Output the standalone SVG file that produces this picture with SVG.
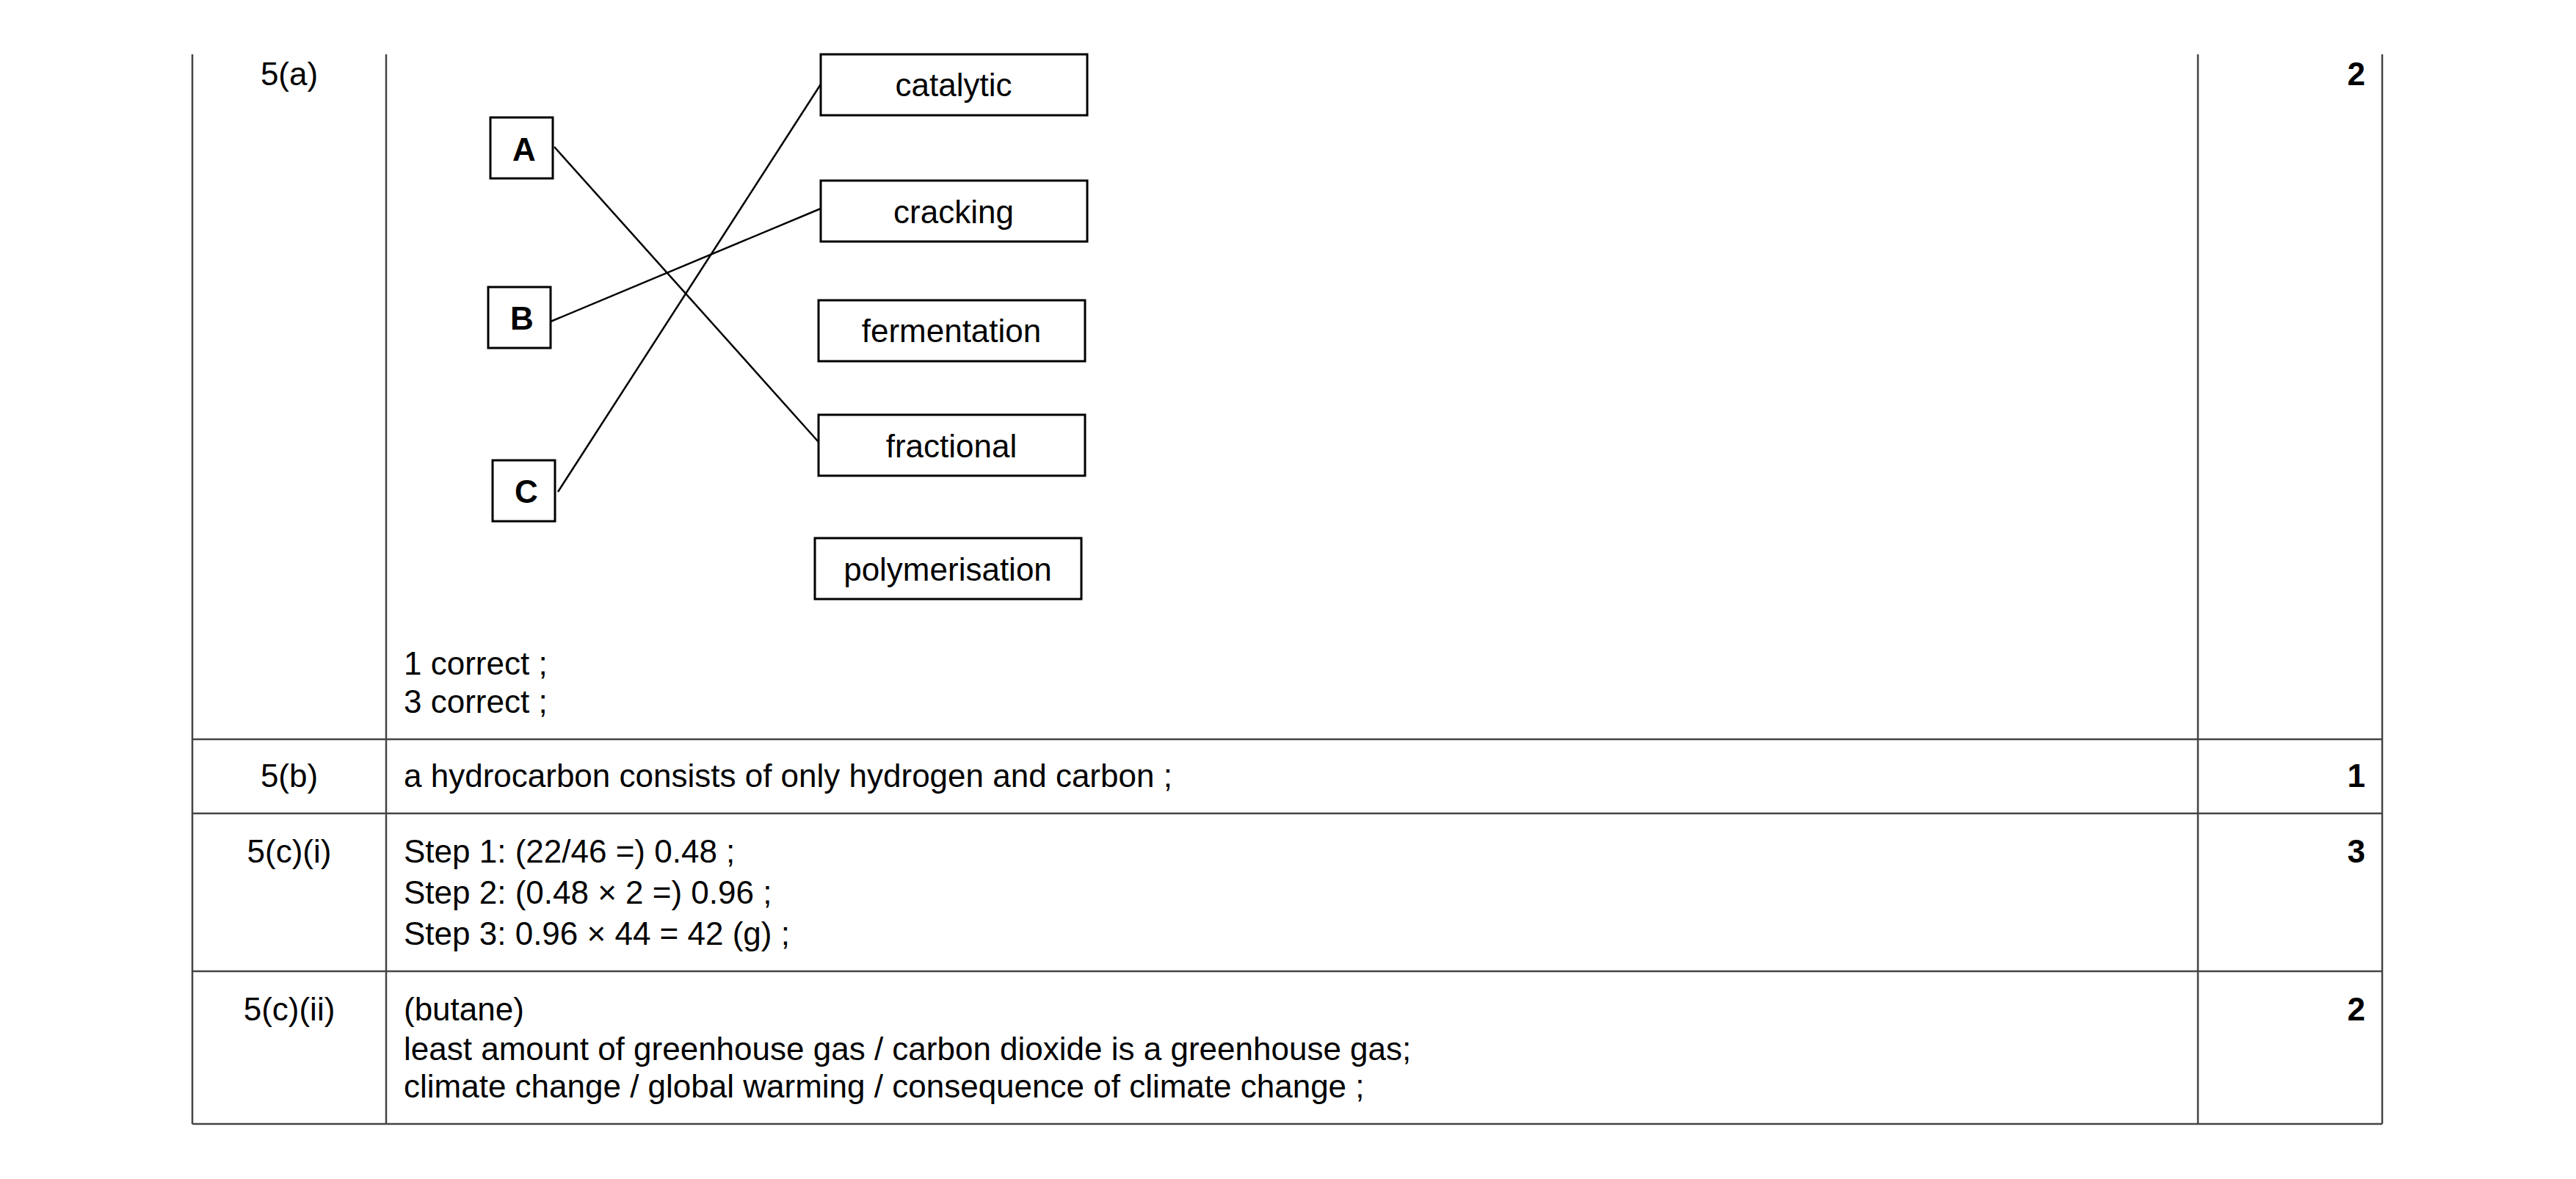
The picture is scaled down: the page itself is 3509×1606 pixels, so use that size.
<svg xmlns="http://www.w3.org/2000/svg" width="3509" height="1606" viewBox="0 0 3509 1606">
<style>
text{font-family:"Liberation Sans",Arial,sans-serif;font-size:44px;fill:#000}
.b{font-weight:bold}
.c{text-anchor:middle}
.r{text-anchor:end;font-weight:bold}
.g{stroke:#444;stroke-width:2.5;fill:none}
.bx{stroke:#000;stroke-width:3;fill:#fff}
.ln{stroke:#000;stroke-width:2.5;fill:none}
</style>
<rect width="3509" height="1606" fill="#fff"/>
<g id="table" class="g">
<line x1="262" y1="74" x2="262" y2="1531"/>
<line x1="526" y1="74" x2="526" y2="1531"/>
<line x1="2994" y1="74" x2="2994" y2="1531"/>
<line x1="3245" y1="74" x2="3245" y2="1531"/>
<line x1="262" y1="1007" x2="3245" y2="1007"/>
<line x1="262" y1="1108" x2="3245" y2="1108"/>
<line x1="262" y1="1323" x2="3245" y2="1323"/>
<line x1="262" y1="1531" x2="3245" y2="1531"/>
</g>
<g id="connectors" class="ln">
<line x1="755" y1="200" x2="1123" y2="611"/>
<line x1="750" y1="438" x2="1123" y2="282"/>
<line x1="760" y1="670" x2="1123" y2="107"/>
</g>
<g id="nodeA"><rect class="bx" x="668" y="160" width="85" height="83"/><text class="b c" x="714" y="219">A</text></g>
<g id="nodeB"><rect class="bx" x="665" y="391" width="85" height="83"/><text class="b c" x="711" y="449">B</text></g>
<g id="nodeC"><rect class="bx" x="671" y="627" width="85" height="83"/><text class="b c" x="717" y="685">C</text></g>
<g id="catalytic"><rect class="bx" x="1118" y="74" width="363" height="83"/><text class="c" x="1299" y="131">catalytic</text></g>
<g id="cracking"><rect class="bx" x="1118" y="246" width="363" height="83"/><text class="c" x="1299" y="304">cracking</text></g>
<g id="fermentation"><rect class="bx" x="1115" y="409" width="363" height="83"/><text class="c" x="1296" y="466">fermentation</text></g>
<g id="fractional"><rect class="bx" x="1115" y="565" width="363" height="83"/><text class="c" x="1296" y="623">fractional</text></g>
<g id="polymerisation"><rect class="bx" x="1110" y="733" width="363" height="83"/><text class="c" x="1291" y="791">polymerisation</text></g>
<g id="labels">
<text class="c" x="394" y="116">5(a)</text>
<text class="c" x="394" y="1072">5(b)</text>
<text class="c" x="394" y="1175">5(c)(i)</text>
<text class="c" x="394" y="1390">5(c)(ii)</text>
<text class="r" x="3222" y="116">2</text>
<text class="r" x="3222" y="1072">1</text>
<text class="r" x="3222" y="1175">3</text>
<text class="r" x="3222" y="1390">2</text>
<text x="550" y="919">1 correct ;</text>
<text x="550" y="971">3 correct ;</text>
<text x="550" y="1072">a hydrocarbon consists of only hydrogen and carbon ;</text>
<text x="550" y="1175">Step 1: (22/46 =) 0.48 ;</text>
<text x="550" y="1231">Step 2: (0.48 × 2 =) 0.96 ;</text>
<text x="550" y="1287">Step 3: 0.96 × 44 = 42 (g) ;</text>
<text x="550" y="1390">(butane)</text>
<text x="550" y="1444">least amount of greenhouse gas / carbon dioxide is a greenhouse gas;</text>
<text x="550" y="1495">climate change / global warming / consequence of climate change ;</text>
</g>
</svg>
